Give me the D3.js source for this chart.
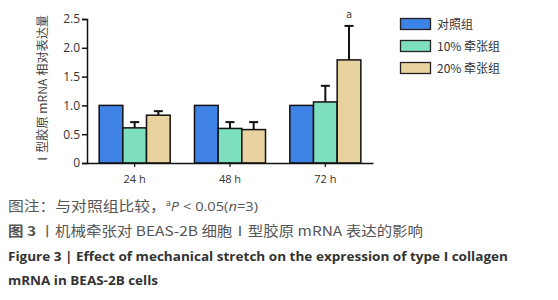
<!DOCTYPE html>
<html><head><meta charset="utf-8">
<script src="https://cdn.jsdelivr.net/npm/d3@7"></script>
<style>body{margin:0;background:#fff}svg{display:block}</style>
</head><body>
<svg id="c" width="558" height="300"></svg>
<script>
const groups = ["24 h", "48 h", "72 h"];
const seriesNames = ["对照组", "10% 牵张组", "20% 牵张组"];
const seriesColors = ["#3f82e6", "#7ddfbd", "#e8d29e"];
const means = [
  [1.0, 0.61, 0.83],
  [1.0, 0.60, 0.58],
  [1.0, 1.06, 1.79]
];
const errors = [
  [0, 0.10, 0.07],
  [0, 0.11, 0.13],
  [0, 0.28, 0.59]
];
const yTicks = [0, 0.5, 1.0, 1.5, 2.0, 2.5];
const yLabels = ["0", "0.5", "1.0", "1.5", "2.0", "2.5"];
const sigMarks = [["72 h", 2, "a"]];
const yTitle = "Ⅰ型胶原 mRNA 相对表达量";
const captions = [
  "图注：与对照组比较，",
  "图 3 丨机械牵张对 BEAS-2B 细胞Ⅰ型胶原 mRNA 表达的影响",
  "Figure 3  |  Effect of mechanical stretch on the expression of type I collagen",
  "mRNA in BEAS-2B cells"
];

const svg = d3.select("#c");
const cjk = "'Noto Sans CJK SC','Noto Sans',sans-serif";
const lat = "'Open Sans','Noto Sans','DejaVu Sans',sans-serif";

const x0 = d3.scaleBand().domain(groups).range([87, 373]).paddingInner(0.255).paddingOuter(0.1275);
const x1 = d3.scaleBand().domain(d3.range(seriesNames.length)).range([0, x0.bandwidth()]);
const y = d3.scaleLinear().domain([0, 2.5]).range([163, 19]);

// bars
const g = svg.append("g");
groups.forEach((grp, gi) => {
  means[gi].forEach((v, si) => {
    const bx = x0(grp) + x1(si);
    const e = errors[gi][si];
    if (e > 0) {
      const cx = bx + x1.bandwidth() / 2;
      g.append("line").attr("x1", cx).attr("x2", cx).attr("y1", y(v)).attr("y2", y(v + e))
        .attr("stroke", "#111").attr("stroke-width", 2);
      g.append("line").attr("x1", cx - 4.5).attr("x2", cx + 4.5).attr("y1", y(v + e)).attr("y2", y(v + e))
        .attr("stroke", "#111").attr("stroke-width", 2);
    }
    g.append("rect").attr("x", bx).attr("y", y(v)).attr("width", x1.bandwidth()).attr("height", y(0) - y(v))
      .attr("fill", seriesColors[si]).attr("stroke", "#111").attr("stroke-width", 1.5);
  });
});

// significance marks
sigMarks.forEach(([grp, si, txt]) => {
  const gi = groups.indexOf(grp);
  const cx = x0(grp) + x1(si) + x1.bandwidth() / 2;
  svg.append("text").attr("x", cx).attr("y", y(means[gi][si] + errors[gi][si]) - 8)
    .attr("text-anchor", "middle").attr("font-family", "'DejaVu Sans',sans-serif").attr("font-size", 10).attr("fill", "#444").text(txt);
});

// y axis
const yAxis = svg.append("g").attr("transform", "translate(87,0)")
  .call(d3.axisLeft(y).tickValues(yTicks).tickFormat((d, i) => yLabels[i]).tickSize(5).tickPadding(2));
yAxis.select(".domain").attr("stroke", "#111").attr("stroke-width", 1.5);
yAxis.selectAll(".tick line").attr("stroke", "#111").attr("stroke-width", 1.5);
yAxis.selectAll(".tick text").attr("font-family", lat).attr("font-size", 12).attr("fill", "#333");

// x axis
const xAxis = svg.append("g").attr("transform", "translate(0,163)")
  .call(d3.axisBottom(x0).tickSize(4).tickSizeOuter(0).tickPadding(8));
xAxis.select(".domain").attr("stroke", "#111").attr("stroke-width", 1.5);
xAxis.selectAll(".tick line").attr("stroke", "#111").attr("stroke-width", 1.2);
xAxis.selectAll(".tick text").attr("font-family", lat).attr("font-size", 11).attr("fill", "#333");

// y title
svg.append("text").attr("transform", "translate(47,90) rotate(-90)")
  .attr("text-anchor", "middle").attr("font-family", cjk).attr("font-size", 12).attr("fill", "#444")
  .attr("textLength", 150).attr("lengthAdjust", "spacingAndGlyphs").text(yTitle);

// legend
seriesNames.forEach((n, i) => {
  const ly = 18.5 + i * 22;
  svg.append("rect").attr("x", 400.5).attr("y", ly).attr("width", 30).attr("height", 11)
    .attr("fill", seriesColors[i]).attr("stroke", "#222").attr("stroke-width", 1.3);
  svg.append("text").attr("x", 437).attr("y", ly + 10).attr("font-family", cjk).attr("font-size", 12)
    .attr("fill", "#333").text(n);
});

// captions
const c1 = svg.append("text").attr("x", 8).attr("y", 211).attr("font-family", cjk).attr("font-size", 14).attr("fill", "#555")
  .attr("textLength", 250).attr("lengthAdjust", "spacingAndGlyphs");
c1.append("tspan").text(captions[0]);
c1.append("tspan").attr("font-size", 8).attr("dy", -5).text("a");
c1.append("tspan").attr("dy", 5).attr("font-style", "italic").attr("font-family", lat).attr("font-size", 13).text("P");
c1.append("tspan").attr("font-family", lat).attr("font-size", 13).text(" < 0.05(");
c1.append("tspan").attr("font-family", lat).attr("font-size", 13).attr("font-style", "italic").text("n");
c1.append("tspan").attr("font-family", lat).attr("font-size", 13).text("=3)");

const c2 = svg.append("text").attr("x", 8).attr("y", 236).attr("font-family", cjk).attr("font-size", 13.5).attr("fill", "#555")
  .attr("textLength", 415).attr("lengthAdjust", "spacingAndGlyphs");
c2.append("tspan").attr("font-weight", "bold").text("图 3 ");
c2.append("tspan").text(captions[1].slice(4));

svg.append("text").attr("x", 8).attr("y", 261).attr("font-family", lat).attr("font-weight", "bold").attr("font-size", 13)
  .attr("fill", "#333").attr("textLength", 500).attr("lengthAdjust", "spacingAndGlyphs").text(captions[2]);
svg.append("text").attr("x", 8).attr("y", 285).attr("font-family", lat).attr("font-weight", "bold").attr("font-size", 13)
  .attr("fill", "#333").attr("textLength", 150).attr("lengthAdjust", "spacingAndGlyphs").text(captions[3]);
</script>
</body></html>
